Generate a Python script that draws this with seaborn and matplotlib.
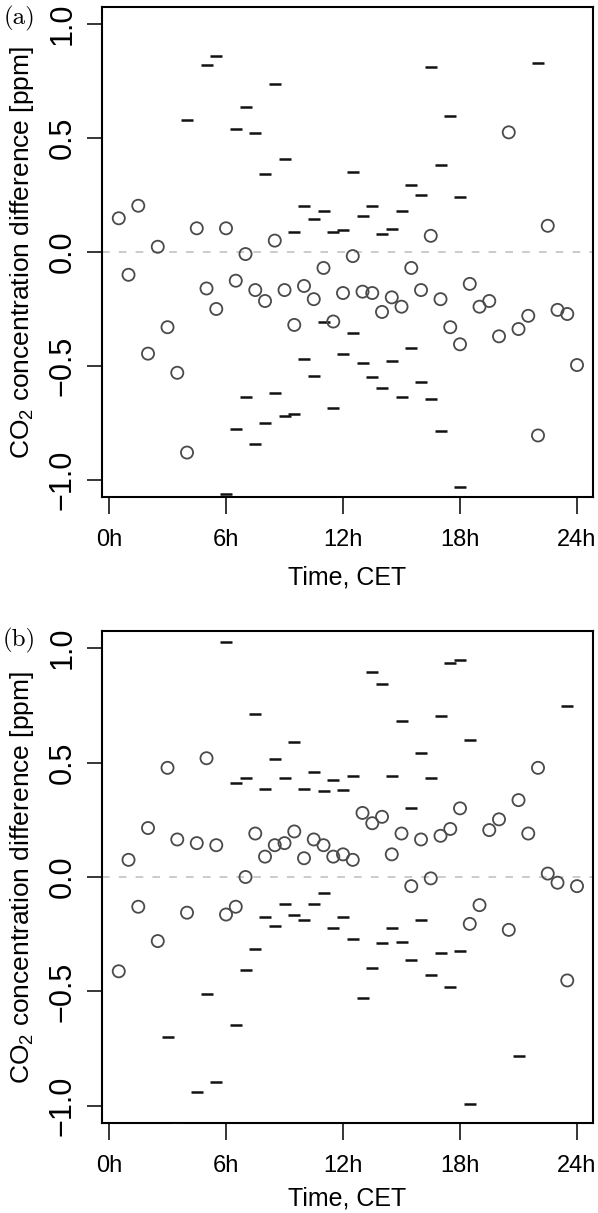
"""Half-hourly CO2 concentration difference over the day, panels (a) and (b)."""
import numpy as np
import pandas as pd
import matplotlib

matplotlib.use("Agg")
import matplotlib.pyplot as plt
import seaborn as sns

NA = np.nan

hours = [0.5, 1.0, 1.5, 2.0, 2.5, 3.0, 3.5, 4.0, 4.5, 5.0, 5.5, 6.0,
         6.5, 7.0, 7.5, 8.0, 8.5, 9.0, 9.5, 10.0, 10.5, 11.0, 11.5, 12.0,
         12.5, 13.0, 13.5, 14.0, 14.5, 15.0, 15.5, 16.0, 16.5, 17.0, 17.5, 18.0,
         18.5, 19.0, 19.5, 20.0, 20.5, 21.0, 21.5, 22.0, 22.5, 23.0, 23.5, 24.0]

# panel (a)
mean_a = [0.148, -0.10, 0.203, -0.446, 0.023, -0.33, -0.53, -0.88, 0.104, -0.16, -0.25, 0.104,
          -0.126, -0.009, -0.167, -0.215, 0.05, -0.167, -0.32, -0.149, -0.207, -0.07, -0.305, -0.18,
          -0.018, -0.174, -0.18, -0.263, -0.199, -0.24, -0.07, -0.167, 0.071, -0.207, -0.33, -0.405,
          -0.14, -0.24, -0.215, -0.37, 0.525, -0.338, -0.28, -0.805, 0.115, -0.254, -0.272, -0.496]
upper_a = [NA, NA, NA, NA, NA, NA, NA, 0.58, NA, 0.82, 0.86, NA,
           0.54, 0.637, 0.523, 0.343, 0.737, 0.408, 0.089, 0.20, 0.145, 0.178, 0.089, 0.096,
           0.35, 0.16, 0.20, 0.079, 0.10, 0.178, 0.294, 0.251, 0.81, 0.383, 0.596, 0.243,
           NA, NA, NA, NA, NA, NA, NA, 0.828, NA, NA, NA, NA]
lower_a = [NA, NA, NA, NA, NA, NA, NA, NA, NA, NA, NA, -1.063,
           -0.776, -0.636, -0.842, -0.75, -0.62, -0.718, -0.71, -0.47, -0.545, -0.305, -0.686, -0.447,
           -0.357, -0.488, -0.547, -0.595, -0.48, -0.636, -0.422, -0.57, -0.645, -0.785, NA, -1.03,
           NA, NA, NA, NA, NA, NA, NA, NA, NA, NA, NA, NA]

# panel (b)
mean_b = [-0.412, 0.075, -0.13, 0.214, -0.28, 0.477, 0.164, -0.156, 0.148, 0.519, 0.139, -0.164,
          -0.13, 0.0, 0.19, 0.089, 0.139, 0.148, 0.199, 0.082, 0.164, 0.139, 0.089, 0.099,
          0.075, 0.28, 0.235, 0.263, 0.099, 0.19, -0.04, 0.164, -0.006, 0.18, 0.21, 0.30,
          -0.205, -0.123, 0.205, 0.252, -0.231, 0.336, 0.19, 0.477, 0.015, -0.025, -0.452, -0.04]
upper_b = [NA, NA, NA, NA, NA, NA, NA, NA, NA, NA, NA, 1.025,
           0.409, 0.434, 0.714, 0.384, 0.516, 0.434, 0.589, 0.384, 0.457, 0.375, 0.425, 0.382,
           0.441, NA, 0.895, 0.845, 0.441, 0.68, 0.303, 0.54, 0.434, 0.705, 0.935, 0.95,
           0.598, NA, NA, NA, NA, NA, NA, NA, NA, NA, 0.746, NA]
lower_b = [NA, NA, NA, NA, NA, -0.70, -1.08, NA, -0.939, -0.512, -0.898, NA,
           -0.645, -0.405, -0.316, -0.174, -0.216, -0.117, -0.167, -0.19, -0.117, -0.069, -0.224, -0.175,
           -0.273, -0.528, -0.398, -0.29, -0.224, -0.282, -0.364, -0.19, -0.43, -0.33, -0.48, -0.324,
           -0.99, NA, NA, NA, NA, -0.784, NA, NA, NA, NA, NA, NA]

tick_hours = [0, 6, 12, 18, 24]
tick_labels = ["0h", "6h", "12h", "18h", "24h"]
ytick_vals = [-1.0, -0.5, 0.0, 0.5, 1.0]

sns.set_theme(style="ticks")
plt.rcParams["font.family"] = ["Liberation Sans Narrow", "Liberation Sans", "DejaVu Sans"]
plt.rcParams["mathtext.default"] = "regular"
for key in ("text.color", "axes.labelcolor", "xtick.color", "ytick.color"):
    plt.rcParams[key] = "black"

VERT_FONT = ["Liberation Sans", "DejaVu Sans"]

W, H = 598, 1213
fig = plt.figure(figsize=(W / 100, H / 100), dpi=100)


def px_axes(left, top, right, bottom):
    return fig.add_axes([left / W, 1 - bottom / H, (right - left) / W, (bottom - top) / H])


def draw_panel(ax, mean, upper, lower, tag, tag_y, xlab_y):
    df = pd.DataFrame({"hour": hours, "mean": mean, "upper": upper, "lower": lower})
    bounds = df.melt(id_vars="hour", value_vars=["upper", "lower"], value_name="ppm").dropna()

    ax.axhline(0, color="#bdbdbd", lw=1.1, ls=(0, (5, 6)), zorder=1)
    sns.scatterplot(data=bounds, x="hour", y="ppm", marker="_", s=78, color="#111111",
                    linewidth=1.8, ax=ax, zorder=3, legend=False)
    sns.scatterplot(data=df, x="hour", y="mean", marker="o", s=76, facecolor="none",
                    edgecolor="#4a4a4a", linewidth=1.3, ax=ax, zorder=4, legend=False)

    ax.set_xlim(-0.36, 24.82)
    ax.set_ylim(-1.075, 1.075)
    ax.set_xticks(tick_hours, labels=tick_labels)
    ax.set_yticks(ytick_vals)

    for sp in ax.spines.values():
        sp.set_visible(True)
        sp.set_color("black")
        sp.set_linewidth(1.5)

    ax.tick_params(axis="x", length=12, width=1.1, pad=11, labelsize=17)
    ax.tick_params(axis="y", length=10.5, width=1.1, pad=7, labelsize=22, labelrotation=90)
    for lab in ax.get_yticklabels():
        lab.set_verticalalignment("center")
        lab.set_family(VERT_FONT)

    ax.set_xlabel("Time, CET", fontsize=18)
    ax.xaxis.set_label_coords(0.5, xlab_y)
    ax.set_ylabel("CO$_2$ concentration difference [ppm]", fontsize=19, family=VERT_FONT)
    ax.yaxis.set_label_coords(-0.134, 0.5)

    fig.text(19 / W, 1 - tag_y / H, tag, ha="center", va="center", fontsize=18,
             family=["cmr10", "DejaVu Serif"])


ax_a = px_axes(102, 7, 593, 497)
draw_panel(ax_a, mean_a, upper_a, lower_a, "(a)", 18, -0.139)

ax_b = px_axes(102, 631, 593, 1123)
draw_panel(ax_b, mean_b, upper_b, lower_b, "(b)", 640, -0.130)

fig.savefig("out.png", dpi=100)
